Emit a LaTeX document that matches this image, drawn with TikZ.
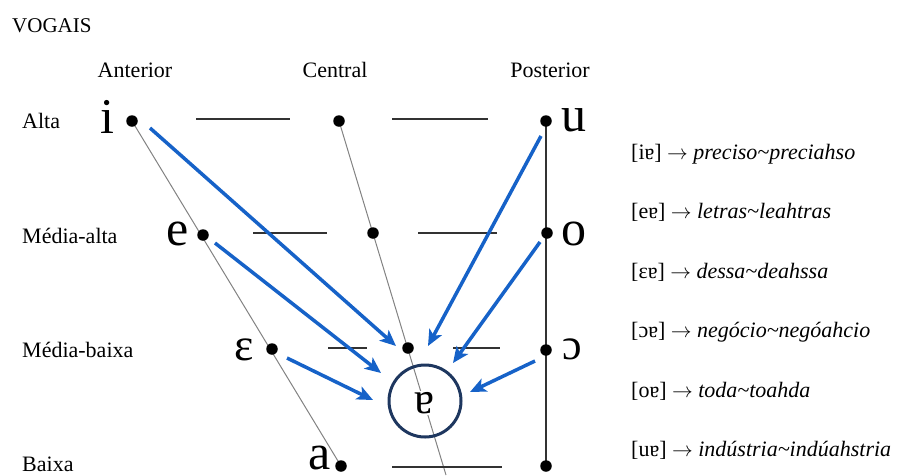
\documentclass[tikz,border=0pt]{standalone}
\usepackage{fontspec}
\setmainfont{Liberation Serif}
\usetikzlibrary{arrows.meta}
\definecolor{arrowblue}{RGB}{22,98,200}
\definecolor{circblue}{RGB}{30,55,95}
\definecolor{guidegray}{RGB}{130,130,130}
\definecolor{linedark}{RGB}{50,50,50}
\begin{document}
\begin{tikzpicture}[x=1pt,y=-1pt,
  vdot/.style={circle,fill=black,inner sep=0pt,minimum size=11.5pt},
  lab/.style={font=\fontsize{22}{24}\selectfont,anchor=base west,inner sep=0pt},
  colhead/.style={font=\fontsize{22}{24}\selectfont,anchor=base,inner sep=0pt},
  vow/.style={font=\fontsize{50}{52}\selectfont,anchor=base,inner sep=0pt},
  exline/.style={font=\fontsize{22}{24}\selectfont,anchor=base west,inner sep=0pt},
  hline/.style={draw=linedark,line width=1.5pt},
  guideline/.style={draw=guidegray,line width=1pt},
  shiftarrow/.style={draw=arrowblue,line width=3.5pt,-{Stealth[length=16pt,width=14pt,inset=4pt]}},
]
\useasboundingbox (0,0) rectangle (902,475);

% title and headers
\node[lab,font=\fontsize{21}{24}\selectfont] (title) at (12,32) {VOGAIS};
\node[colhead] (hant) at (135,77) {Anterior};
\node[colhead] (hcen) at (335,77) {Central};
\node[colhead] (hpos) at (550,77) {Posterior};

% row labels
\node[lab] (lalta) at (22,128) {Alta};
\node[lab] (lmalta) at (22,243) {Média-alta};
\node[lab] (lmbaixa) at (22,357) {Média-baixa};
\node[lab] (lbaixa) at (22,471) {Baixa};

% guide lines
\coordinate (cbot) at (446,475);
\draw[guideline] (132,121) -- (341,466);
\draw[guideline] (339,121) -- (cbot);
\draw[draw=linedark,line width=2pt] (546,121) -- (546,466);

% horizontal lines
\draw[hline] (196,119) -- (290,119);
\draw[hline] (392,119) -- (488,119);
\draw[hline] (253,233) -- (327,233);
\draw[hline] (418,233) -- (497,233);
\draw[hline] (328,348) -- (367,348);
\draw[hline] (453,348) -- (500,348);
\draw[hline] (392,467) -- (502,467);

% dots
\node[vdot] (di) at (132,121) {};
\node[vdot] (dca) at (339,121) {};
\node[vdot] (du) at (546,121) {};
\node[vdot] (de) at (203,235) {};
\node[vdot] (dcma) at (373,233) {};
\node[vdot] (do) at (547,233) {};
\node[vdot] (deps) at (272,349) {};
\node[vdot] (dcmb) at (408,348) {};
\node[vdot] (doo) at (546,350) {};
\node[vdot] (da) at (341,466) {};
\node[vdot] (dpb) at (546,466) {};

% vowel symbols
\node[vow] (vi) at (107,133) {i};
\node[vow] (ve) at (178,245) {e};
\node[vow,font=\fontsize{46}{48}\selectfont] (veps) at (244,360) {ɛ};
\node[vow] (va) at (320,469) {a};
\node[vow] (vu) at (574,131) {u};
\node[vow] (vo) at (574,245) {o};
\node[vow,font=\fontsize{44}{46}\selectfont] (voo) at (572,359) {ɔ};

% circle with schwa-a
\node[draw=circblue,line width=3pt,circle,minimum size=72pt,inner sep=0pt] (circ) at (425,401) {};
\node[font=\fontsize{45}{47}\selectfont,fill=white,inner sep=1pt] (vschwa) at (424,403) {ɐ};

% arrows
\coordinate (si) at (150,128);  \coordinate (ti) at (396,346);
\coordinate (se) at (215,243);  \coordinate (te) at (381,373);
\coordinate (seps) at (287,358); \coordinate (teps) at (373,400);
\coordinate (su) at (541,136);  \coordinate (tu) at (428,346);
\coordinate (so) at (540,242);  \coordinate (to) at (453,363);
\coordinate (soo) at (535,361); \coordinate (too) at (470,392);
\draw[shiftarrow] (si) -- (ti);
\draw[shiftarrow] (se) -- (te);
\draw[shiftarrow] (seps) -- (teps);
\draw[shiftarrow] (su) -- (tu);
\draw[shiftarrow] (so) -- (to);
\draw[shiftarrow] (soo) -- (too);

% examples
\node[exline] (ex1) at (631,159) {[iɐ] $\rightarrow$ \textit{preciso\textasciitilde preciahso}};
\node[exline] (ex2) at (631,218) {[eɐ] $\rightarrow$ \textit{letras\textasciitilde leahtras}};
\node[exline] (ex3) at (631,278) {[ɛɐ] $\rightarrow$ \textit{dessa\textasciitilde deahssa}};
\node[exline] (ex4) at (631,337) {[ɔɐ] $\rightarrow$ \textit{negócio\textasciitilde negóahcio}};
\node[exline] (ex5) at (631,397) {[oɐ] $\rightarrow$ \textit{toda\textasciitilde toahda}};
\node[exline] (ex6) at (631,456) {[uɐ] $\rightarrow$ \textit{indústria\textasciitilde indúahstria}};
\end{tikzpicture}
\end{document}
